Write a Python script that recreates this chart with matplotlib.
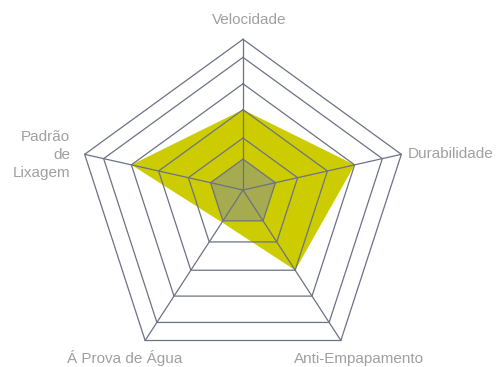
import matplotlib.pyplot as plt
import numpy as np

# --- dados ---
categorias = ['Velocidade', 'Durabilidade', 'Anti-Empapamento', 'Á Prova de Água', 'Padrão\nde\nLixagem']
serie_amarela = [53.3, 70.5, 53.3, 21.5, 70.5]
serie_cinza = [20.5, 20.5, 20.5, 20.5, 20.5]
niveis_grade = [34.5, 53.3, 70.5, 88.0, 100.0]
valor_max = 100.0

# --- geometria (pixels da figura, y para baixo) ---
origem = np.array([243.0, 190.0])
raio_ext = 166.5
centro_ext = np.array([243.0, 205.8])
angulos = np.deg2rad(90 - 72 * np.arange(5))
vertices = np.column_stack([centro_ext[0] + raio_ext * np.cos(angulos),
                            centro_ext[1] - raio_ext * np.sin(angulos)])


def pontos(valores):
    f = np.asarray(valores)[:, None] / valor_max
    return origem + f * (vertices - origem)


fig = plt.figure(figsize=(5.01, 3.67), dpi=100)
ax = fig.add_axes([0, 0, 1, 1])
ax.set_xlim(0, 501)
ax.set_ylim(367, 0)
ax.axis('off')

cor_grade = '#6c7284'

# séries
p = pontos(serie_amarela)
ax.fill(p[:, 0], p[:, 1], color='#cccc00', lw=0, zorder=1)
p = pontos(serie_cinza)
ax.fill(p[:, 0], p[:, 1], color='#7f8c9d', alpha=0.5, lw=0, zorder=2)

# grade
for nivel in [serie_cinza[0]] + niveis_grade:
    p = pontos([nivel] * 5)
    p = np.vstack([p, p[:1]])
    ax.plot(p[:, 0], p[:, 1], color=cor_grade, lw=0.9, zorder=3)
for v in vertices:
    ax.plot([origem[0], v[0]], [origem[1], v[1]], color=cor_grade, lw=0.9, zorder=3)

# rótulos
cor_txt = '#a0a0a0'
fonte = dict(fontsize=11, color=cor_txt, family='Liberation Sans')
ax.text(249.5, 20, categorias[0], ha='center', va='center', **fonte)
ax.text(408, 154, categorias[1], ha='left', va='center', **fonte)
ax.text(359, 358.5, categorias[2], ha='center', va='center', **fonte)
ax.text(125, 358.5, categorias[3], ha='center', va='center', **fonte)
ax.text(70, 155, categorias[4], ha='right', va='center', linespacing=1.35, **fonte)

fig.savefig('out.png', dpi=100)
